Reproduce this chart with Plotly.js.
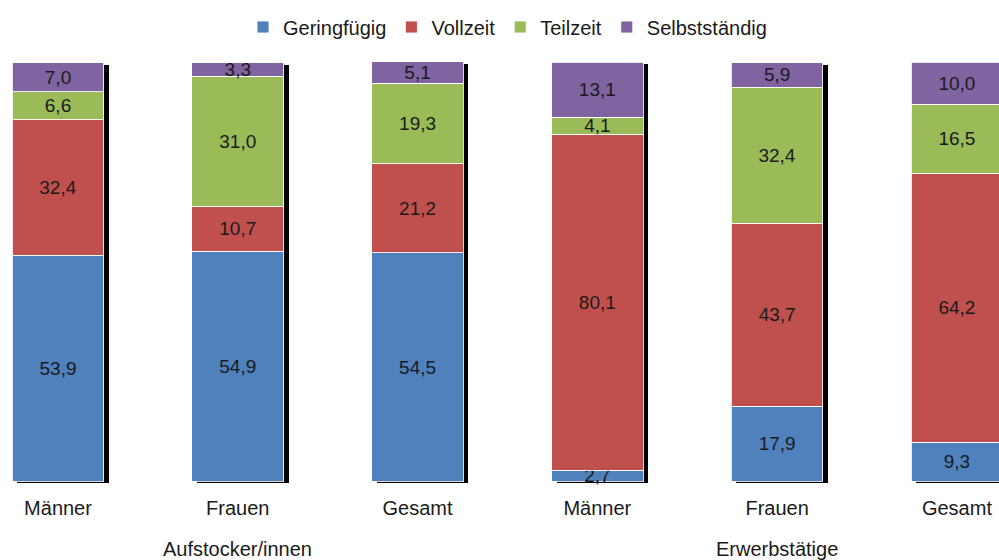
<!DOCTYPE html>
<html>
<head>
<meta charset="utf-8">
<script src="https://cdn.plot.ly/plotly-3.0.1.min.js"></script>
<style>html,body{margin:0;padding:0;background:#fff;}#chart{width:999px;height:560px;}</style>
</head>
<body>
<div id="chart"></div>
<script>
const categories = ["Männer", "Frauen", "Gesamt", "Männer", "Frauen", "Gesamt"];
const groups = ["Aufstocker/innen", "Aufstocker/innen", "Aufstocker/innen", "Erwerbstätige", "Erwerbstätige", "Erwerbstätige"];
const seriesNames = ["Geringfügig", "Vollzeit", "Teilzeit", "Selbstständig"];
const geringfuegig = [53.9, 54.9, 54.5, 2.7, 17.9, 9.3];
const vollzeit = [32.4, 10.7, 21.2, 80.1, 43.7, 64.2];
const teilzeit = [6.6, 31.0, 19.3, 4.1, 32.4, 16.5];
const selbststaendig = [7.0, 3.3, 5.1, 13.1, 5.9, 10.0];
const colors = ["#4F81BD", "#C0504D", "#9BBB59", "#8064A2"];

const xIdx = categories.map((c, i) => i);
const seriesValues = [geringfuegig, vollzeit, teilzeit, selbststaendig];
const totals = xIdx.map(i => seriesValues.reduce((s, arr) => s + arr[i], 0));

const FONT = "Liberation Sans, Arial, sans-serif";
const pxPerX = 179.8;
const xr = [-0.3226, 5.234];
const yr = [-3, 100.5];
const pxPerY = 434 / (yr[1] - yr[0]);
const dx = 5, dy = 2;

const traces = [];
// shadow (base subplot)
traces.push({
  type: "bar", x: xIdx, y: totals, width: 0.51,
  marker: {color: "#000"}, showlegend: false, hoverinfo: "skip",
  xaxis: "x", yaxis: "y"
});
seriesValues.forEach((vals, k) => {
  traces.push({
    type: "bar", name: seriesNames[k], x: xIdx, y: vals, width: 0.51,
    marker: {color: colors[k], line: {color: "rgba(255,255,255,0.85)", width: 1}},
    texttemplate: "%{y:.1f}", textposition: "inside", insidetextanchor: "middle",
    constraintext: "none",
    textfont: {family: FONT, size: 19, color: "#1a1a1a"},
    xaxis: "x2", yaxis: "y2"
  });
});

// group labels
const groupNames = [...new Set(groups)];
const annotations = groupNames.map(g => {
  const idx = xIdx.filter(i => groups[i] === g);
  const center = idx.reduce((a, b) => a + b, 0) / idx.length;
  return {
    text: g, x: center, xref: "x2", y: 0, yref: "paper",
    yanchor: "middle", yshift: -55, showarrow: false,
    font: {family: FONT, size: 20, color: "#1a1a1a"}
  };
});

const layout = {
  width: 999, height: 560,
  margin: {l: 0, r: 0, t: 60, b: 66},
  paper_bgcolor: "#fff", plot_bgcolor: "rgba(0,0,0,0)",
  barmode: "stack",
  separators: ",.",
  font: {family: FONT, size: 20, color: "#1a1a1a"},
  showlegend: true,
  legend: {
    orientation: "h", x: 0.508, xanchor: "center", y: 1 - 27 / 560, yref: "container",
    yanchor: "middle", font: {family: FONT, size: 20, color: "#1a1a1a"},
    itemwidth: 30, traceorder: "normal", bgcolor: "rgba(0,0,0,0)"
  },
  xaxis: {
    range: [xr[0] - dx / pxPerX, xr[1] - dx / pxPerX],
    showgrid: false, zeroline: false, showticklabels: false, showline: false, ticks: ""
  },
  yaxis: {
    range: [yr[0] + dy / pxPerY, yr[1] + dy / pxPerY],
    showgrid: false, zeroline: false, showticklabels: false, showline: false, ticks: ""
  },
  xaxis2: {
    overlaying: "x", side: "bottom", range: xr,
    tickvals: xIdx, ticktext: categories,
    showgrid: false, zeroline: false, showline: false, ticks: "",
    tickfont: {family: FONT, size: 20, color: "#1a1a1a"}
  },
  yaxis2: {
    overlaying: "y", range: yr,
    showgrid: false, zeroline: false, showticklabels: false, showline: false, ticks: ""
  },
  annotations: annotations
};

Plotly.newPlot("chart", traces, layout, {displayModeBar: false, staticPlot: true});
</script>
</body>
</html>
